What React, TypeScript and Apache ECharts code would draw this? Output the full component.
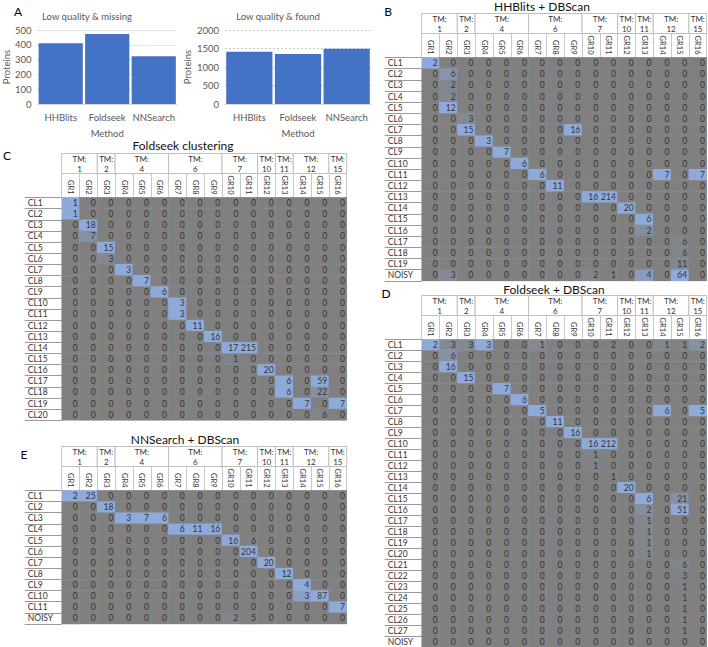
import React, { useEffect, useRef } from "react";
import * as echarts from "echarts";

// ---------- Panel A data ----------
const METHODS = ["HHBlits", "Foldseek", "NNSearch"];
const LOW_QUALITY_MISSING = [410, 473, 322];
const LOW_QUALITY_FOUND = [1410, 1350, 1495];

// ---------- Heatmap categories ----------
const GR_LABELS = ["GR1", "GR2", "GR3", "GR4", "GR5", "GR6", "GR7", "GR8", "GR9", "GR10", "GR11", "GR12", "GR13", "GR14", "GR15", "GR16"];
// [first column, last column, TM label]
const TM_GROUPS: [number, number, string][] = [
  [0, 1, "1"], [2, 2, "2"], [3, 5, "4"], [6, 8, "6"], [9, 10, "7"],
  [11, 11, "10"], [12, 12, "11"], [13, 14, "12"], [15, 15, "15"],
];

const clRows = (n: number, noisy: boolean) => {
  const r: string[] = [];
  for (let i = 1; i <= n; i++) r.push("CL" + i);
  if (noisy) r.push("NOISY");
  return r;
};
const ROWS_B = clRows(19, true);
const ROWS_C = clRows(20, false);
const ROWS_D = clRows(27, true);
const ROWS_E = clRows(11, true);

// ---------- B: HHBlits + DBScan ----------
const HHBLITS_DBSCAN = [
  [2, 0, 0, 0, 0, 0, 0, 0, 0, 0, 0, 0, 0, 0, 0, 0],
  [0, 6, 0, 0, 0, 0, 0, 0, 0, 0, 0, 0, 0, 0, 0, 0],
  [0, 2, 0, 0, 0, 0, 0, 0, 0, 0, 0, 0, 0, 0, 0, 0],
  [0, 2, 0, 0, 0, 0, 0, 0, 0, 0, 0, 0, 0, 0, 0, 0],
  [0, 12, 0, 0, 0, 0, 0, 0, 0, 0, 0, 0, 0, 0, 0, 0],
  [0, 0, 3, 0, 0, 0, 0, 0, 0, 0, 0, 0, 0, 0, 0, 0],
  [0, 0, 15, 0, 0, 0, 0, 0, 16, 0, 0, 0, 0, 0, 0, 0],
  [0, 0, 0, 3, 0, 0, 0, 0, 0, 0, 0, 0, 0, 0, 0, 0],
  [0, 0, 0, 0, 7, 0, 0, 0, 0, 0, 0, 0, 0, 0, 0, 0],
  [0, 0, 0, 0, 0, 6, 0, 0, 0, 0, 0, 0, 0, 0, 0, 0],
  [0, 0, 0, 0, 0, 0, 6, 0, 0, 0, 0, 0, 0, 7, 0, 7],
  [0, 0, 0, 0, 0, 0, 0, 11, 0, 0, 0, 0, 0, 0, 0, 0],
  [0, 0, 0, 0, 0, 0, 0, 0, 0, 16, 214, 0, 0, 0, 0, 0],
  [0, 0, 0, 0, 0, 0, 0, 0, 0, 0, 0, 20, 0, 0, 0, 0],
  [0, 0, 0, 0, 0, 0, 0, 0, 0, 0, 0, 0, 6, 0, 0, 0],
  [0, 0, 0, 0, 0, 0, 0, 0, 0, 0, 0, 0, 2, 0, 0, 0],
  [0, 0, 0, 0, 0, 0, 0, 0, 0, 0, 0, 0, 0, 0, 6, 0],
  [0, 0, 0, 0, 0, 0, 0, 0, 0, 0, 0, 0, 0, 0, 6, 0],
  [0, 0, 0, 0, 0, 0, 0, 0, 0, 0, 0, 0, 0, 0, 11, 0],
  [0, 3, 0, 0, 0, 0, 0, 0, 0, 2, 1, 0, 4, 0, 64, 0],
];

// ---------- C: Foldseek clustering ----------
const FOLDSEEK_CLUSTERING = [
  [1, 0, 0, 0, 0, 0, 0, 0, 0, 0, 0, 0, 0, 0, 0, 0],
  [1, 0, 0, 0, 0, 0, 0, 0, 0, 0, 0, 0, 0, 0, 0, 0],
  [0, 18, 0, 0, 0, 0, 0, 0, 0, 0, 0, 0, 0, 0, 0, 0],
  [0, 7, 0, 0, 0, 0, 0, 0, 0, 0, 0, 0, 0, 0, 0, 0],
  [0, 0, 15, 0, 0, 0, 0, 0, 0, 0, 0, 0, 0, 0, 0, 0],
  [0, 0, 3, 0, 0, 0, 0, 0, 0, 0, 0, 0, 0, 0, 0, 0],
  [0, 0, 0, 3, 0, 0, 0, 0, 0, 0, 0, 0, 0, 0, 0, 0],
  [0, 0, 0, 0, 7, 0, 0, 0, 0, 0, 0, 0, 0, 0, 0, 0],
  [0, 0, 0, 0, 0, 6, 0, 0, 0, 0, 0, 0, 0, 0, 0, 0],
  [0, 0, 0, 0, 0, 0, 3, 0, 0, 0, 0, 0, 0, 0, 0, 0],
  [0, 0, 0, 0, 0, 0, 3, 0, 0, 0, 0, 0, 0, 0, 0, 0],
  [0, 0, 0, 0, 0, 0, 0, 11, 0, 0, 0, 0, 0, 0, 0, 0],
  [0, 0, 0, 0, 0, 0, 0, 0, 16, 0, 0, 0, 0, 0, 0, 0],
  [0, 0, 0, 0, 0, 0, 0, 0, 0, 17, 215, 0, 0, 0, 0, 0],
  [0, 0, 0, 0, 0, 0, 0, 0, 0, 1, 0, 0, 0, 0, 0, 0],
  [0, 0, 0, 0, 0, 0, 0, 0, 0, 0, 0, 20, 0, 0, 0, 0],
  [0, 0, 0, 0, 0, 0, 0, 0, 0, 0, 0, 0, 6, 0, 59, 0],
  [0, 0, 0, 0, 0, 0, 0, 0, 0, 0, 0, 0, 6, 0, 22, 0],
  [0, 0, 0, 0, 0, 0, 0, 0, 0, 0, 0, 0, 0, 7, 0, 7],
  [0, 0, 0, 0, 0, 0, 0, 0, 0, 0, 0, 0, 0, 0, 6, 0],
];

// ---------- D: Foldseek + DBScan ----------
const FOLDSEEK_DBSCAN = [
  [2, 3, 3, 3, 0, 0, 1, 0, 0, 0, 2, 0, 0, 1, 1, 2],
  [0, 6, 0, 0, 0, 0, 0, 0, 0, 0, 0, 0, 0, 0, 0, 0],
  [0, 16, 0, 0, 0, 0, 0, 0, 0, 0, 0, 0, 0, 0, 0, 0],
  [0, 0, 15, 0, 0, 0, 0, 0, 0, 0, 0, 0, 0, 0, 0, 0],
  [0, 0, 0, 0, 7, 0, 0, 0, 0, 0, 0, 0, 0, 0, 0, 0],
  [0, 0, 0, 0, 0, 6, 0, 0, 0, 0, 0, 0, 0, 0, 0, 0],
  [0, 0, 0, 0, 0, 0, 5, 0, 0, 0, 0, 0, 0, 6, 0, 5],
  [0, 0, 0, 0, 0, 0, 0, 11, 0, 0, 0, 0, 0, 0, 0, 0],
  [0, 0, 0, 0, 0, 0, 0, 0, 16, 0, 0, 0, 0, 0, 0, 0],
  [0, 0, 0, 0, 0, 0, 0, 0, 0, 16, 212, 0, 0, 0, 0, 0],
  [0, 0, 0, 0, 0, 0, 0, 0, 0, 1, 0, 0, 0, 0, 0, 0],
  [0, 0, 0, 0, 0, 0, 0, 0, 0, 1, 0, 0, 0, 0, 0, 0],
  [0, 0, 0, 0, 0, 0, 0, 0, 0, 0, 1, 0, 0, 0, 0, 0],
  [0, 0, 0, 0, 0, 0, 0, 0, 0, 0, 0, 20, 0, 0, 0, 0],
  [0, 0, 0, 0, 0, 0, 0, 0, 0, 0, 0, 0, 6, 0, 21, 0],
  [0, 0, 0, 0, 0, 0, 0, 0, 0, 0, 0, 0, 2, 0, 51, 0],
  [0, 0, 0, 0, 0, 0, 0, 0, 0, 0, 0, 0, 1, 0, 0, 0],
  [0, 0, 0, 0, 0, 0, 0, 0, 0, 0, 0, 0, 1, 0, 0, 0],
  [0, 0, 0, 0, 0, 0, 0, 0, 0, 0, 0, 0, 1, 0, 0, 0],
  [0, 0, 0, 0, 0, 0, 0, 0, 0, 0, 0, 0, 1, 0, 0, 0],
  [0, 0, 0, 0, 0, 0, 0, 0, 0, 0, 0, 0, 0, 0, 6, 0],
  [0, 0, 0, 0, 0, 0, 0, 0, 0, 0, 0, 0, 0, 0, 3, 0],
  [0, 0, 0, 0, 0, 0, 0, 0, 0, 0, 0, 0, 0, 0, 1, 0],
  [0, 0, 0, 0, 0, 0, 0, 0, 0, 0, 0, 0, 0, 0, 1, 0],
  [0, 0, 0, 0, 0, 0, 0, 0, 0, 0, 0, 0, 0, 0, 1, 0],
  [0, 0, 0, 0, 0, 0, 0, 0, 0, 0, 0, 0, 0, 0, 1, 0],
  [0, 0, 0, 0, 0, 0, 0, 0, 0, 0, 0, 0, 0, 0, 1, 0],
  [0, 0, 0, 0, 0, 0, 0, 0, 0, 0, 0, 0, 0, 0, 0, 0],
];

// ---------- E: NNSearch + DBScan ----------
const NNSEARCH_DBSCAN = [
  [2, 25, 0, 0, 0, 0, 0, 0, 0, 0, 0, 0, 0, 0, 0, 0],
  [0, 0, 18, 0, 0, 0, 0, 0, 0, 0, 0, 0, 0, 0, 0, 0],
  [0, 0, 0, 3, 7, 6, 0, 0, 0, 0, 0, 0, 0, 0, 0, 0],
  [0, 0, 0, 0, 0, 0, 6, 11, 16, 0, 0, 0, 0, 0, 0, 0],
  [0, 0, 0, 0, 0, 0, 0, 0, 0, 16, 6, 0, 0, 0, 0, 0],
  [0, 0, 0, 0, 0, 0, 0, 0, 0, 0, 204, 0, 0, 0, 0, 0],
  [0, 0, 0, 0, 0, 0, 0, 0, 0, 0, 0, 20, 0, 0, 0, 0],
  [0, 0, 0, 0, 0, 0, 0, 0, 0, 0, 0, 0, 12, 0, 0, 0],
  [0, 0, 0, 0, 0, 0, 0, 0, 0, 0, 0, 0, 0, 4, 0, 0],
  [0, 0, 0, 0, 0, 0, 0, 0, 0, 0, 0, 0, 0, 3, 87, 0],
  [0, 0, 0, 0, 0, 0, 0, 0, 0, 0, 0, 0, 0, 0, 0, 7],
  [0, 0, 0, 0, 0, 0, 0, 0, 0, 2, 5, 0, 0, 0, 0, 0],
];

const FONT = "Lato, 'Noto Sans', sans-serif";
const TM_H = 20;
const GR_H = 24;
const GRAY = "#808080";
const BLUE = "#8eaadb";

// value + ratio to column maximum (colour scale per column)
function toHeat(matrix: number[][]) {
  const colMax = new Array(16).fill(0);
  matrix.forEach((r) => r.forEach((v, j) => (colMax[j] = Math.max(colMax[j], v))));
  const out: number[][] = [];
  matrix.forEach((r, i) =>
    r.forEach((v, j) => out.push([j, i, v, colMax[j] ? v / colMax[j] : 0]))
  );
  return out;
}

export default function App() {
  const ref = useRef<HTMLDivElement>(null);

  useEffect(() => {
    if (!ref.current) return;
    const chart = echarts.init(ref.current, undefined, { renderer: "svg" });

    const panels = [
      { rows: ROWS_B, data: HHBLITS_DBSCAN, left: 421.7, top: 57.5, rowH: 11.17 },
      { rows: ROWS_C, data: FOLDSEEK_CLUSTERING, left: 61.7, top: 197.5, rowH: 11.14 },
      { rows: ROWS_D, data: FOLDSEEK_DBSCAN, left: 421.7, top: 339.5, rowH: 11.03 },
      { rows: ROWS_E, data: NNSEARCH_DBSCAN, left: 61.7, top: 490.5, rowH: 11.12 },
    ];

    const grids: any[] = [
      { left: 33, top: 30, width: 144, height: 74 },
      { left: 225, top: 30, width: 146, height: 74 },
      ...panels.map((p) => ({ left: p.left, top: p.top, width: 285, height: p.rows.length * p.rowH })),
    ];

    const barX = (gi: number) => ({
      type: "category",
      gridIndex: gi,
      data: METHODS,
      name: "Method",
      nameLocation: "middle",
      nameGap: 24,
      nameTextStyle: { fontSize: 9.5, color: "#595959", fontFamily: FONT },
      axisTick: { show: false },
      axisLine: { lineStyle: { color: "#d9d9d9" } },
      axisLabel: { interval: 0, fontSize: 9.5, color: "#595959", margin: 8, fontFamily: FONT },
    });
    const barY = (gi: number, max: number, interval: number, gap: number) => ({
      type: "value",
      gridIndex: gi,
      min: 0,
      max,
      interval,
      name: "Proteins",
      nameLocation: "middle",
      nameGap: gap,
      nameTextStyle: { fontSize: 9.5, color: "#595959", fontFamily: FONT },
      axisLabel: {
        fontSize: 9.5,
        color: "#595959",
        margin: 6,
        fontFamily: FONT,
        formatter: (v: number) => String(v),
      },
      splitLine: { lineStyle: { color: "#c8c8c8", type: [2, 2] } },
      axisLine: { show: false },
      axisTick: { show: false },
    });

    const heatX = panels.map((_, k) => ({
      type: "category",
      gridIndex: k + 2,
      position: "top",
      data: GR_LABELS,
      axisLine: { show: true, lineStyle: { color: "#bfbfbf" } },
      axisTick: { show: true, interval: 0, length: GR_H, lineStyle: { color: "#c8c8c8" } },
      axisLabel: { interval: 0, rotate: 90, fontSize: 7.5, color: "#333", margin: 3, fontFamily: FONT },
      splitLine: { show: false },
    }));
    const heatY = panels.map((p, k) => ({
      type: "category",
      gridIndex: k + 2,
      inverse: true,
      data: p.rows,
      axisLine: { show: false },
      axisTick: { show: true, interval: 0, length: 37, lineStyle: { color: "#9a9a9a" } },
      axisLabel: { interval: 0, align: "left", margin: 34, fontSize: 8.5, color: "#333", fontFamily: FONT },
      splitLine: { show: false },
    }));

    const heatSeries = panels.map((p, k) => ({
      type: "heatmap",
      xAxisIndex: k + 2,
      yAxisIndex: k + 2,
      data: toHeat(p.data),
      encode: { x: 0, y: 1, value: 2 },
      itemStyle: { borderWidth: 0 },
      label: {
        show: true,
        position: "insideRight",
        distance: 2,
        fontSize: 8.5,
        color: "#333",
        fontFamily: FONT,
        formatter: (pr: any) => String(pr.value[2]),
      },
      emphasis: { disabled: true },
    }));

    const tmSeries = panels.map((_, k) => ({
      type: "custom",
      coordinateSystem: "cartesian2d",
      xAxisIndex: k + 2,
      yAxisIndex: k + 2,
      clip: false,
      silent: true,
      z: 5,
      data: TM_GROUPS.map((g) => [g[0], 0, g[1]]),
      encode: { x: 0, y: 1 },
      renderItem: (params: any, api: any) => {
        const g = TM_GROUPS[params.dataIndex];
        const cw = api.size([1, 0])[0];
        const x0 = api.coord([g[0], 0])[0] - cw / 2;
        const x1 = api.coord([g[1], 0])[0] + cw / 2;
        const top = params.coordSys.y - GR_H - TM_H;
        return {
          type: "group",
          children: [
            {
              type: "rect",
              shape: { x: x0, y: top, width: x1 - x0, height: TM_H },
              style: { fill: "#fff", stroke: "#bfbfbf", lineWidth: 1 },
            },
            {
              type: "text",
              style: {
                text: "TM:\n" + g[2],
                x: (x0 + x1) / 2,
                y: top + TM_H / 2 + 0.5,
                align: "center",
                verticalAlign: "middle",
                fontSize: 8,
                lineHeight: 10,
                fill: "#333",
                fontFamily: FONT,
              },
            },
          ],
        };
      },
    }));

    const txt = (text: string, x: number, y: number, size: number, color: string, align = "center") => ({
      type: "text",
      x,
      y,
      style: { text, align, verticalAlign: "middle", fontSize: size, fill: color, fontFamily: FONT },
      silent: true,
    });

    chart.setOption({
      animation: false,
      textStyle: { fontFamily: FONT },
      grid: grids,
      xAxis: [barX(0), barX(1), ...heatX],
      yAxis: [barY(0, 500, 100, 24), barY(1, 2000, 500, 33), ...heatY],
      visualMap: {
        type: "continuous",
        show: false,
        seriesIndex: [2, 3, 4, 5],
        dimension: 3,
        min: 0,
        max: 1,
        inRange: { color: [GRAY, BLUE] },
      },
      series: [
        {
          type: "bar",
          xAxisIndex: 0,
          yAxisIndex: 0,
          data: LOW_QUALITY_MISSING,
          barCategoryGap: "5%",
          itemStyle: { color: "#4472c4" },
        },
        {
          type: "bar",
          xAxisIndex: 1,
          yAxisIndex: 1,
          data: LOW_QUALITY_FOUND,
          barCategoryGap: "5%",
          itemStyle: { color: "#4472c4" },
        },
        ...heatSeries,
        ...tmSeries,
      ],
      graphic: [
        txt("A", 18, 11.5, 12, "#000"),
        txt("Low quality & missing", 87, 16, 9.5, "#595959"),
        txt("Low quality & found", 278, 16, 9.5, "#595959"),
        txt("B", 388, 11, 12, "#000"),
        txt("HHBlits + DBScan", 542, 6.5, 12, "#111"),
        txt("C", 7, 155, 12, "#000"),
        txt("Foldseek clustering", 183, 145.5, 12, "#111"),
        txt("D", 386, 293, 12, "#000"),
        txt("Foldseek + DBScan", 554, 289, 12, "#111"),
        txt("E", 24, 454, 12, "#000"),
        txt("NNSearch + DBScan", 185, 439, 12, "#111"),
      ],
    });

    return () => chart.dispose();
  }, []);

  return (
    <div
      ref={ref}
      style={{ position: "fixed", left: 0, top: 0, width: 708, height: 647, background: "#fff" }}
    />
  );
}
